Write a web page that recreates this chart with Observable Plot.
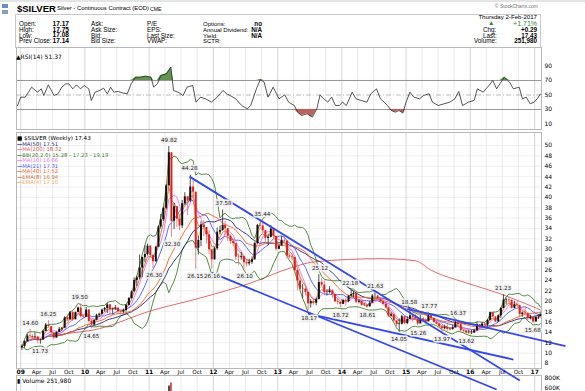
<!DOCTYPE html>
<html><head><meta charset="utf-8">
<script src="https://cdn.jsdelivr.net/npm/d3@7"></script>
<script src="https://cdn.jsdelivr.net/npm/@observablehq/plot@0.6"></script>
<style>
body{margin:0;background:#fff;}
#root{position:relative;width:585px;height:391px;overflow:hidden;font-family:"Liberation Sans",Arial,sans-serif;color:#000;background:#fff;}
.abs{position:absolute;white-space:nowrap;}
#root svg{position:absolute;left:0;top:0;}
</style></head><body><div id="root"></div>
<script>
// ---------- DATA ----------
// semi-monthly bars, Jan 2009 .. Feb 2017 (first and second half of each month)
const closes = [
 11.3,12.2,13.3,13.2,13.0,13.1,12.4,12.5,14.2,15.4,15.1,13.9,12.9,14.0,14.6,14.8,16.8,16.4,17.8,16.4,17.8,18.7,17.0,16.9,
 18.3,16.1,15.4,16.3,17.3,17.5,18.3,18.6,19.3,18.4,18.5,18.7,18.0,17.9,18.2,19.2,20.5,21.8,24.0,24.5,26.4,28.4,29.0,30.6,
 28.8,27.6,30.4,34.3,35.7,37.9,42.2,48.6,35.4,38.2,35.8,34.5,38.8,40.1,39.3,42.0,41.0,30.2,31.7,34.7,34.2,32.8,29.9,28.0,
 30.1,33.3,33.6,34.6,34.0,32.5,31.5,31.1,28.5,28.4,28.6,27.4,27.2,27.5,28.0,31.1,34.6,34.5,33.6,32.1,32.3,33.9,32.5,30.0,
 30.6,31.7,31.6,28.7,28.5,28.4,25.9,23.9,22.3,22.3,21.7,19.5,19.9,19.6,20.3,23.6,23.1,21.7,21.7,22.0,21.3,19.9,19.8,19.4,
 20.1,19.9,21.0,21.3,21.5,19.8,20.0,19.2,19.2,18.9,19.6,21.0,21.0,20.4,19.9,19.4,18.7,17.1,17.4,16.2,15.5,15.6,17.0,15.7,
 16.5,17.2,16.9,16.6,15.6,16.6,16.3,16.0,17.2,16.7,15.9,15.6,15.1,14.7,15.0,14.6,14.6,14.9,15.8,15.5,14.3,14.2,13.9,13.9,
 13.9,14.3,15.5,14.9,15.6,15.4,16.3,17.8,17.0,16.0,17.2,18.6,20.2,20.3,20.2,18.6,19.3,19.2,17.4,17.7,17.6,16.6,16.9,16.0,
 16.9,17.0,17.43];
const highs = [
 11.6,12.4,13.6,14.6,13.6,13.9,13.2,12.7,14.4,15.7,16.25,14.9,13.7,14.1,15.0,14.9,17.0,17.4,18.0,18.1,17.9,18.9,19.5,17.4,
 18.8,18.4,16.3,16.4,17.5,17.7,18.5,18.8,19.6,19.4,18.7,19.2,18.5,18.2,18.5,19.4,20.7,22.0,24.5,24.8,28.9,28.5,30.7,31.0,
 30.7,28.9,30.6,34.5,36.7,38.1,42.5,49.82,48.5,38.9,38.2,36.4,39.4,40.9,40.2,44.28,43.4,41.0,32.5,35.3,35.6,33.8,33.6,29.6,
 30.4,34.1,34.5,37.58,35.4,33.2,32.8,31.8,30.8,29.1,29.4,28.3,28.1,28.1,28.5,31.4,34.8,35.4,35.44,33.3,32.9,34.6,33.9,32.2,
 31.0,32.5,32.4,31.0,29.2,29.1,28.5,26.1,24.5,23.2,22.6,21.5,20.3,20.3,20.6,25.12,24.4,23.9,22.2,22.8,22.2,21.3,20.4,19.8,
 20.4,20.6,21.1,22.18,21.9,21.0,20.2,19.8,19.6,19.3,20.0,21.3,21.63,21.1,20.6,19.9,19.5,18.8,17.8,17.5,16.2,16.6,17.3,16.9,
 17.0,18.58,17.4,17.5,16.4,17.3,16.9,16.6,17.77,17.5,16.8,16.1,15.7,15.1,15.4,15.5,14.9,15.4,16.1,16.37,15.5,14.5,14.5,14.4,
 14.4,14.6,15.9,15.5,15.9,15.8,16.5,17.9,17.8,16.6,17.4,18.8,21.23,20.6,20.8,19.9,20.0,19.9,19.1,17.9,19.0,17.6,17.3,16.6,
 17.0,17.4,17.75];
const lows = [
 10.5,10.9,12.2,12.9,12.5,12.8,11.9,11.73,12.6,14.1,14.9,13.5,12.5,12.9,14.0,14.2,14.8,16.1,16.6,16.1,16.5,17.8,16.8,16.6,
 17.0,15.9,14.65,15.3,16.2,16.8,17.3,17.9,17.6,17.4,17.4,18.2,17.5,17.3,17.6,17.9,19.1,20.4,21.8,22.8,24.2,24.5,27.4,28.7,
 28.3,26.3,27.5,30.5,33.9,35.4,37.6,42.2,32.3,33.8,34.2,33.6,34.0,38.5,36.5,39.0,39.8,26.15,28.9,30.5,32.4,31.0,29.0,26.16,
 27.9,29.8,32.8,33.5,32.6,31.5,30.9,30.4,27.8,26.9,27.9,26.1,26.6,26.8,27.1,27.9,31.0,33.9,33.0,31.1,30.7,32.2,32.0,29.7,
 29.9,31.0,31.2,28.1,28.2,27.9,25.3,22.0,22.0,20.5,21.0,18.17,18.7,19.2,19.1,20.8,22.8,21.0,21.0,21.4,20.6,19.7,19.3,18.72,
 19.4,19.1,19.7,20.8,20.6,19.5,19.5,19.0,19.0,18.61,18.9,19.8,20.6,20.2,19.6,19.1,18.5,16.9,16.9,15.9,15.0,14.05,15.4,15.5,
 15.5,16.9,16.0,16.4,15.26,15.9,15.9,15.6,16.2,16.5,15.8,15.5,14.7,13.97,14.5,14.1,14.3,14.4,14.8,15.3,14.1,13.8,13.62,13.7,
 13.6,13.8,14.2,14.6,14.9,15.0,15.0,16.2,16.8,15.9,16.0,16.7,18.7,19.3,19.6,18.5,18.8,18.9,16.8,16.9,17.5,16.2,16.4,15.68,
 16.0,16.5,17.08];
const firstOpen = 11.0;

// MA(200): [decimal year, price]
const ma200Line = [[2009.50,13.4],[2009.80,13.9],[2010.11,14.4],[2011.04,18.2],[2011.82,20.7],[2012.60,23.6],[2013.22,26.5],
 [2013.58,27.6],[2014.62,28.2],[2015.14,27.8],[2015.40,25.9],[2015.92,23.6],[2016.45,21.5],[2016.96,19.0],[2017.09,18.32]];

// RSI(14): [decimal year, value]
const rsiSeries = [[2008.95,35.5],[2009.00,47],[2009.07,47],[2009.17,60.8],[2009.26,53.9],[2009.32,58.5],[2009.36,49.3],[2009.43,64],[2009.52,49.3],[2009.58,51.6],[2009.64,60.8],[2009.70,65.4],[2009.75,65.4],[2009.81,58.5],[2009.87,64],[2009.93,58.5],[2009.99,63.1],[2010.06,58.5],[2010.10,42.4],[2010.16,53.9],[2010.23,56.2],[2010.29,59.4],[2010.35,51.6],[2010.40,60.8],[2010.45,53.9],[2010.52,54.8],[2010.58,53],[2010.66,51.6],[2010.72,65.4],[2010.79,74.6],[2010.86,74.6],[2010.95,76],[2011.03,74.6],[2011.07,60.8],[2011.13,65.4],[2011.18,76.9],[2011.27,79.2],[2011.34,88.4],[2011.38,56.2],[2011.45,53.9],[2011.53,49.3],[2011.59,60.8],[2011.68,63.1],[2011.73,40.1],[2011.80,47],[2011.88,44.7],[2011.97,40.1],[2012.06,47],[2012.15,56.2],[2012.21,51.6],[2012.26,49.3],[2012.35,44.7],[2012.44,35.5],[2012.53,30.9],[2012.58,35.5],[2012.67,58.5],[2012.73,71.4],[2012.79,67.7],[2012.85,47],[2012.93,60.8],[2013.02,44.7],[2013.11,50.2],[2013.17,40.1],[2013.26,35.5],[2013.31,26.3],[2013.37,21.7],[2013.46,24],[2013.54,19.4],[2013.61,30.9],[2013.66,50.2],[2013.72,44.7],[2013.78,40.1],[2013.84,47],[2013.90,35.5],[2013.96,35.5],[2014.01,40.1],[2014.07,35.5],[2014.16,53.9],[2014.22,44.7],[2014.30,42.4],[2014.39,40.1],[2014.45,51.6],[2014.54,58.5],[2014.60,44.7],[2014.66,40.1],[2014.71,35.5],[2014.77,28.6],[2014.83,26.3],[2014.89,28.6],[2014.95,25],[2015.00,40.1],[2015.06,53.9],[2015.12,47],[2015.21,44.7],[2015.27,49.3],[2015.36,51.6],[2015.41,40.1],[2015.50,35.5],[2015.59,37.8],[2015.68,40.1],[2015.76,44.7],[2015.82,54.8],[2015.88,35.5],[2015.97,40.1],[2016.06,42.4],[2016.11,58.5],[2016.20,53.9],[2016.29,63.1],[2016.35,70],[2016.41,58.5],[2016.46,65.4],[2016.53,74.6],[2016.61,67.7],[2016.67,58.5],[2016.76,60.8],[2016.81,44.7],[2016.87,47],[2016.93,37.8],[2016.99,40.1],[2017.04,44.7],[2017.09,51.4]];

// trend lines: [start year, start price, end year, end price]
const trendLines = [[2011.63,44.0,2016.77,4.72],[2011.97,25.5,2016.41,3.0],[2013.47,17.63,2016.67,8.77],[2015.02,18.53,2017.48,11.33]];

// annotated swing highs / lows
const highLabels = [[2009.15,14.60],[2009.43,16.25],[2009.92,19.50],[2011.31,49.82],[2011.63,44.28],[2012.16,37.58],[2012.76,35.44],[2013.66,25.12],[2014.13,22.18],[2014.52,21.63],[2015.05,18.58],[2015.36,17.77],[2015.81,16.37],[2016.51,21.23]];
const lowLabels = [[2009.30,11.73],[2010.10,14.65],[2011.08,26.30],[2011.36,32.30],[2011.72,26.15],[2011.98,26.16],[2012.49,26.10],[2013.49,18.17],[2013.98,18.72],[2014.40,18.61],[2014.89,14.05],[2015.19,15.26],[2015.56,13.97],[2015.94,13.62],[2016.97,15.68]];

// volume bars visible at the bottom edge
const volumeBars = [[2011.31,640000],[2011.34,700000]];

const legendItems = [
 ["MA(50) 17.51","#26267a"],["MA(200) 18.32","#e05a5a"],["BB(20,2.0) 15.28 - 17.23 - 19.19","#3d7f2e"],
 ["MA(10) 16.66","#ee6ee6"],["MA(21) 17.31","#4a5aff"],["MA(40) 17.52","#ff5a1e"],["EMA(8) 16.94","#c8703c"],["EMA(4) 17.10","#f0a860"]];
const priceTicks = d3.range(8, 51, 2);
const rsiTicks = [10, 30, 50, 70, 90];

// ---------- helpers ----------
const yd = t => { const y = Math.floor(t); const s = Date.UTC(y,0,1), e = Date.UTC(y+1,0,1); return new Date(s + (t-y)*(e-s)); };
const bars = closes.map((c,i) => {
  const m = Math.floor(i/2), y = 2009 + Math.floor(m/12), mo = m % 12;
  let date = new Date(Date.UTC(y, mo, i % 2 ? 23 : 8));
  if (i === closes.length-1) date = new Date(Date.UTC(2017,1,2));
  const open = i ? closes[i-1] : firstOpen;
  return {date, open, close:c, high:highs[i], low:lows[i], up: c >= open};
});
function ema(vals, n){ const a = 2/(n+1); let p = vals[0]; return vals.map(v => (p = a*v + (1-a)*p)); }
const e8 = ema(closes, 4), e4 = ema(closes, 2);
bars.forEach((b,i) => {
  const w = closes.slice(Math.max(0,i-9), i+1); const m = d3.mean(w);
  const sd = Math.sqrt(d3.mean(w, v => (v-m)*(v-m)));
  b.bbU = m + 2*sd; b.bbL = m - 2*sd; b.e8 = e8[i]; b.e4 = e4[i];
});
const xDomain = [new Date(Date.UTC(2008,11,8)), new Date(Date.UTC(2017,1,9))];
const quarters = d3.utcMonth.every(3).range(new Date(Date.UTC(2009,0,1)), new Date(Date.UTC(2017,1,1)));
const years = quarters.filter(d => d.getUTCMonth() === 0);
const months = quarters.filter(d => d.getUTCMonth() !== 0);
const mon = ["Jan","Feb","Mar","Apr","May","Jun","Jul","Aug","Sep","Oct","Nov","Dec"];
const ML = 16, MR = 44;
const FONT = "DejaVu Sans, Verdana, sans-serif";

const root = document.getElementById("root");
function txt(s, x, y, o = {}) {
  const d = document.createElement("div"); d.className = "abs"; d.textContent = s;
  const fs = o.size || 6.3, lh = fs*1.0;
  d.style.fontSize = fs+"px"; d.style.lineHeight = lh+"px"; d.style.top = (y-lh/2)+"px";
  if (o.align === "right") d.style.right = (585-x)+"px"; else d.style.left = x+"px";
  if (o.bold) d.style.fontWeight = "bold";
  if (o.color) d.style.color = o.color;
  if (o.font) d.style.fontFamily = o.font;
  root.appendChild(d); return d;
}
function box(x,y,w,h,style){ const d=document.createElement("div"); d.className="abs"; Object.assign(d.style,{left:x+"px",top:y+"px",width:w+"px",height:h+"px"},style); root.appendChild(d); }

// ---------- header ----------
box(0,0,585,2,{background:"#e4e4e4"});
box(2,4,6,4,{background:"#6a8fc8"}); box(2,10,6,4,{background:"#8aa0c0"});
box(15,14,526,34,{border:"1px solid #c8c8c8",boxSizing:"border-box"});
txt("$SILVER", 17, 9, {size:9.5, bold:true});
txt("Silver - Continuous Contract (EOD)", 57, 9.4, {size:5.9});
txt("CME", 150, 9.6, {size:5.2});
txt("© StockCharts.com", 538, 6.5, {size:5, align:"right", color:"#777"});
const rows = [24, 30, 35.7, 41.3];
[["Open:","17.17","Ask:","P/E","Options:","no"],["High:","17.75","Ask Size:","EPS:","Annual Dividend:","N/A"],
 ["Low:","17.08","Bid:","Last Size:","Yield:","N/A"],["Prev Close:","17.14","Bid Size:","VWAP:","SCTR:",""]]
 .forEach((r,i) => {
  const y = rows[i];
  txt(r[0],19,y); txt(r[1],69,y,{bold:true,align:"right",size:6.6}); txt(r[2],91,y); txt(r[3],147,y); txt(r[4],203,y,{size:6});
  if (r[5]) txt(r[5],262,y,{bold:true,align:"right",size:6.3});
 });
txt("Thursday  2-Feb-2017", 537, 16.8, {align:"right", size:6.1});
txt("▲", 488, 23.6, {size:6.6, color:"#2e8b2e"});
txt("+1.71%", 537, 23.6, {align:"right", size:7, color:"#2e8b2e"});
txt("Chg:", 483, 30.5); txt("+0.29", 537, 30.5, {align:"right", bold:true});
txt("Last:", 483, 36); txt("17.43", 537, 36, {align:"right", bold:true});
txt("Volume:", 474, 41.6); txt("251,980", 537, 41.6, {align:"right", bold:true});

// ---------- common grid marks ----------
const vgrid = () => [
  Plot.ruleX(months, {stroke:"#e6e6e6", strokeWidth:0.8}),
  Plot.ruleX(years, {stroke:"#cfcfcf", strokeWidth:0.9})
];

// ---------- volume panel ----------
const vol = Plot.plot({
  width:585, height:420, marginTop:375, marginBottom:0, marginLeft:ML, marginRight:MR,
  x:{type:"utc", domain:xDomain, axis:null},
  y:{domain:[-50000, 850000], axis:null},
  style:{background:"transparent", overflow:"visible"},
  marks:[
    ...vgrid(),
    Plot.ruleX(volumeBars, {x:d => yd(d[0]), y1:0, y2:d => d[1], stroke:(d,i)=> i ? "#d03030" : "#222", strokeWidth:1.6}),
    Plot.frame({stroke:"#b8b8b8"}),
    Plot.axisY({anchor:"right", ticks:[600000, 800000], tickFormat:d => d/1000 + "K", tickSize:0, tickPadding:3, fontSize:6, fontFamily:FONT, label:null})
  ]
});
root.appendChild(vol);

// ---------- RSI panel ----------
const rsiData = rsiSeries.map(([t,v]) => ({date:yd(t), v}));
const rsi = Plot.plot({
  width:585, height:129, marginTop:47, marginBottom:0, marginLeft:ML, marginRight:MR,
  x:{type:"utc", domain:xDomain, axis:null},
  y:{domain:[2.4, 115.5], axis:null},
  style:{background:"transparent", overflow:"visible"},
  marks:[
    ...vgrid(),
    Plot.ruleY([70, 30], {stroke:"#8a8a8a", strokeWidth:0.9}),
    Plot.ruleY([50], {stroke:"#a8a8a8", strokeWidth:0.8, strokeDasharray:"5,2,1,2"}),
    Plot.areaY(rsiData, {x:"date", y1:70, y2:d => Math.max(70, d.v), fill:"#4f8a3c", fillOpacity:0.9}),
    Plot.areaY(rsiData, {x:"date", y1:30, y2:d => Math.min(30, d.v), fill:"#b8524a", fillOpacity:0.9}),
    Plot.lineY(rsiData, {x:"date", y:"v", stroke:"#2a2a2a", strokeWidth:0.8}),
    Plot.frame({stroke:"#b8b8b8"}),
    Plot.axisY({anchor:"right", ticks:rsiTicks, tickSize:0, tickPadding:3, fontSize:6, fontFamily:FONT, label:null})
  ]
});
root.appendChild(rsi);
txt("▲RSI(14) 51.37", 16, 57, {size:6, font:FONT});

// ---------- price panel ----------
const col = Object.fromEntries(legendItems.map(([l,c]) => [l.split(" ")[0], c]));
const ma = (k, c) => Plot.lineY(bars, Plot.windowY({k, anchor:"end"}, {x:"date", y:"close", stroke:c, strokeWidth:0.9}));
const lab = (arr, dy) => Plot.text(arr, {x:d => yd(d[0]), y:d => d[1], text:d => d[1].toFixed(2), dy,
  fontSize:5.6, fontFamily:FONT, fill:"#222", stroke:"#f0f0f0", strokeWidth:3});
const price = Plot.plot({
  width:585, height:391, marginTop:132, marginBottom:23, marginLeft:ML, marginRight:MR,
  x:{type:"utc", domain:xDomain, axis:null},
  y:{domain:[7.04, 52.5], axis:null},
  style:{background:"transparent", overflow:"visible"},
  marks:[
    Plot.ruleY(priceTicks, {stroke:"#ececec", strokeWidth:0.8}),
    ...vgrid(),
    Plot.frame({stroke:"#b8b8b8"}),
    Plot.line(ma200Line, {x:d => yd(d[0]), y:d => d[1], stroke:col["MA(200)"], strokeWidth:0.9, curve:"monotone-x"}),
    Plot.lineY(bars, {x:"date", y:"bbU", stroke:col["BB(20,2.0)"], strokeWidth:0.9}),
    Plot.lineY(bars, {x:"date", y:"bbL", stroke:col["BB(20,2.0)"], strokeWidth:0.9}),
    ma(25, col["MA(50)"]), ma(20, col["MA(40)"]), ma(10, col["MA(21)"]), ma(5, col["MA(10)"]),
    Plot.lineY(bars, {x:"date", y:"e8", stroke:col["EMA(8)"], strokeWidth:0.9}),
    Plot.lineY(bars, {x:"date", y:"e4", stroke:col["EMA(4)"], strokeWidth:0.9}),
    Plot.ruleX(bars.filter(d => d.up), {x:"date", y1:"low", y2:"high", stroke:"#222", strokeWidth:0.8}),
    Plot.ruleX(bars.filter(d => !d.up), {x:"date", y1:"low", y2:"high", stroke:"#e06a6a", strokeWidth:0.8}),
    Plot.ruleX(bars.filter(d => d.up), {x:"date", y1:"open", y2:"close", stroke:"#111", strokeWidth:2}),
    Plot.ruleX(bars.filter(d => !d.up), {x:"date", y1:"open", y2:"close", stroke:"#e02020", strokeWidth:2}),
    Plot.link(trendLines, {x1:d => yd(d[0]), y1:d => d[1], x2:d => yd(d[2]), y2:d => d[3], stroke:"#3347f0", strokeWidth:1.8}),
    lab(highLabels, -6.5), lab(lowLabels, 7),
    Plot.axisY({anchor:"right", ticks:priceTicks, tickSize:0, tickPadding:3, fontSize:6, fontFamily:FONT, label:null}),
    Plot.text(years, {x:d => d, frameAnchor:"bottom", dy:5.5, text:d => String(d.getUTCFullYear()).slice(2), fontSize:6, fontWeight:"bold", fontFamily:FONT}),
    Plot.text(months, {x:d => d, frameAnchor:"bottom", dy:5.5, text:d => mon[d.getUTCMonth()], fontSize:5.6, fontFamily:FONT})
  ]
});
root.appendChild(price);

// legend (top-left of price panel)
txt("■ $SILVER (Weekly) 17.43", 17, 139, {size:5.6, font:FONT});
legendItems.forEach(([l,c],i) => {
  const d = txt("", 17, 144.6 + i*5.45, {size:5.3, font:FONT});
  const s = document.createElement("span"); s.textContent = "—"; s.style.color = c; s.style.fontWeight="bold";
  const t = document.createElement("span"); t.textContent = l; t.style.color = c;
  d.appendChild(s); d.appendChild(t);
});
txt("▮ Volume 251,980", 17, 380.5, {size:6, font:FONT});
</script>
</body></html>
